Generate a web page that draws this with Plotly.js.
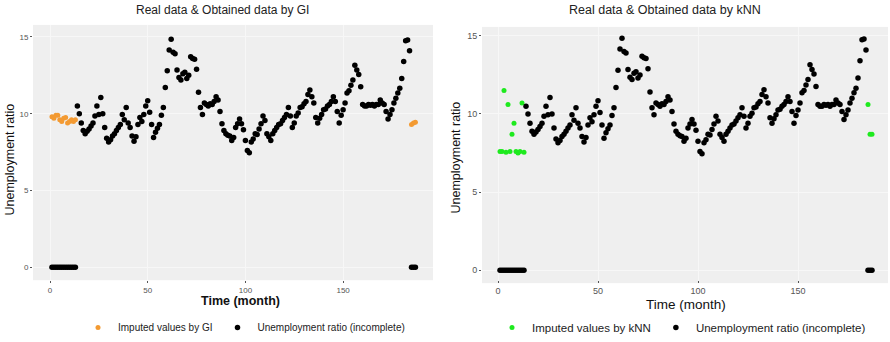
<!DOCTYPE html>
<html>
<head>
<meta charset="utf-8">
<script src="https://cdn.plot.ly/plotly-3.0.1.min.js"></script>
<style>html,body{margin:0;padding:0;background:#fff;}#chart{width:890px;height:342px;}</style>
</head>
<body>
<div id="chart"></div>
<script>
// Incomplete unemployment series, months 1..187 (missing months shown as 0)
const incomplete = [
  0, 0, 0, 0, 0, 0, 0, 0, 0, 0, 0, 0, 0,
  10.5, 10.0, 9.4, 8.9, 8.7, 8.85, 9.0, 9.2, 9.4, 9.85,
  10.5, 9.95, 11.05, 10.0, 9.1, 8.4, 8.15, 8.3, 8.55, 8.7,
  8.9, 9.1, 9.3, 9.95, 9.6, 10.4, 9.4, 9.1, 8.55, 8.2,
  8.5, 9.3, 9.75, 9.5, 9.95, 10.5, 10.85, 10.1, 9.3, 8.45,
  8.8, 9.05, 9.3, 9.9, 10.4, 11.7, 12.8, 14.15, 14.85, 14.0,
  13.9, 12.85, 12.35, 12.2, 12.6, 12.7, 12.3, 12.5, 13.7, 13.6,
  13.55, 12.9, 11.4, 10.4, 9.95, 10.7, 10.6, 10.5, 10.65, 10.6,
  10.8, 11.1, 10.9, 10.15, 9.35, 8.9, 8.7, 8.6, 8.55, 8.25,
  8.45, 9.1, 9.35, 9.65, 9.35, 8.95, 8.25, 7.6, 7.45, 8.15,
  8.35, 8.7, 8.65, 9.0, 9.35, 9.85, 9.55, 8.7, 8.5, 8.25,
  8.7, 8.9, 9.1, 9.3, 9.35, 9.55, 9.75, 9.95, 10.4, 9.85,
  9.1, 9.4, 9.85, 10.05, 10.4, 10.45, 10.65, 10.8, 11.25, 11.55,
  11.1, 10.7, 9.75, 9.4, 9.7, 9.95, 10.25, 10.3, 10.5, 10.6,
  10.8, 11.1, 10.8, 10.15, 9.4, 9.9, 10.25, 10.7, 11.35, 11.5,
  11.85, 12.2, 13.15, 12.85, 12.55, 11.75, 10.6, 10.5, 10.5, 10.6,
  10.55, 10.6, 10.5, 10.6, 10.6, 10.9, 10.7, 10.6, 10.15, 9.65,
  9.95, 10.25, 10.7, 11.0, 11.35, 11.65, 12.3, 13.4, 14.75, 14.8, 14.1,
  0, 0, 0
];
const months = incomplete.map((v, i) => i + 1);

// Months with missing data and their imputed values
const missingMonths = [1, 2, 3, 4, 5, 6, 7, 8, 9, 10, 11, 12, 13, 185, 186, 187];
const imputedGI  = [9.8, 9.7, 9.9, 9.9, 9.6, 9.5, 9.7, 9.75, 9.4, 9.5, 9.6, 9.5, 9.6, 9.3, 9.4, 9.45];
const imputedKNN = [7.6, 7.6, 11.5, 7.55, 10.6, 7.6, 8.7, 9.4, 7.6, 7.5, 7.6, 10.7, 7.55, 10.6, 8.7, 8.7];

const titles = ['Real data & Obtained data by GI', 'Real data & Obtained data by kNN'];
const legendNames = ['Imputed values by GI', 'Imputed values by kNN'];
const seriesName = 'Unemployment ratio (incomplete)';
const xTicks = [0, 50, 100, 150];
const yTicks = [0, 5, 10, 15];

const FONT = 'Liberation Sans, Arial, sans-serif';

const traces = [
  {x: missingMonths, y: imputedGI, type: 'scatter', mode: 'markers', name: legendNames[0],
   marker: {color: '#F39A32', size: 5}, xaxis: 'x', yaxis: 'y', legend: 'legend'},
  {x: months, y: incomplete, type: 'scatter', mode: 'markers', name: seriesName,
   marker: {color: '#000000', size: 5.5}, xaxis: 'x', yaxis: 'y', legend: 'legend'},
  {x: missingMonths, y: imputedKNN, type: 'scatter', mode: 'markers', name: legendNames[1],
   marker: {color: '#1EEA1E', size: 5}, xaxis: 'x2', yaxis: 'y2', legend: 'legend2'},
  {x: months, y: incomplete, type: 'scatter', mode: 'markers', name: seriesName,
   marker: {color: '#000000', size: 5.5}, xaxis: 'x2', yaxis: 'y2', legend: 'legend2'}
];

function xax(domain, range, fs) {
  return {domain: domain, range: range, tickvals: xTicks, ticktext: xTicks.map(String),
    showgrid: true, gridcolor: '#F7F7F7', gridwidth: 1, zeroline: false,
    ticks: 'outside', ticklen: 2, tickcolor: '#555', showline: false,
    tickfont: {family: FONT, size: fs, color: '#555'}, fixedrange: true};
}
function yax(domain, range, fs, anchor) {
  return {domain: domain, range: range, tickvals: yTicks, ticktext: yTicks.map(String),
    showgrid: true, gridcolor: '#F7F7F7', gridwidth: 1, zeroline: false,
    ticks: 'outside', ticklen: 2, tickcolor: '#555', showline: false, anchor: anchor,
    tickfont: {family: FONT, size: fs, color: '#555'}, fixedrange: true};
}

const layout = {
  width: 890, height: 342,
  margin: {l: 0, r: 0, t: 0, b: 0},
  paper_bgcolor: '#ffffff',
  plot_bgcolor: '#EFEFEF',
  font: {family: FONT, color: '#222'},
  xaxis: xax([33/890, 433/890], [-8.7, 196], 8),
  yaxis: yax([61/342, 317/342], [-0.84, 15.78], 8, 'x'),
  xaxis2: xax([482/890, 888/890], [-8, 195], 9),
  yaxis2: yax([58/342, 315/342], [-0.83, 15.57], 9, 'x2'),
  showlegend: true,
  legend: {orientation: 'h', x: 78/890, y: 14/342, xanchor: 'left', yanchor: 'middle',
    font: {family: FONT, size: 10, color: '#222'}, bgcolor: 'rgba(0,0,0,0)', itemwidth: 30},
  legend2: {orientation: 'h', x: 492/890, y: 14/342, xanchor: 'left', yanchor: 'middle',
    font: {family: FONT, size: 11.5, color: '#222'}, bgcolor: 'rgba(0,0,0,0)', itemwidth: 30},
  annotations: [
    {text: titles[0], x: 222/890, y: 1 - 10/342, xref: 'paper', yref: 'paper', showarrow: false,
     xanchor: 'center', yanchor: 'middle', font: {family: FONT, size: 12, color: '#222'}},
    {text: titles[1], x: 665/890, y: 1 - 10/342, xref: 'paper', yref: 'paper', showarrow: false,
     xanchor: 'center', yanchor: 'middle', font: {family: FONT, size: 12.5, color: '#222'}},
    {text: '<b>Time (month)</b>', x: 240/890, y: 1 - 302/342, xref: 'paper', yref: 'paper', showarrow: false,
     xanchor: 'center', yanchor: 'middle', font: {family: FONT, size: 12.5, color: '#111'}},
    {text: 'Time (month)', x: 686/890, y: 1 - 305/342, xref: 'paper', yref: 'paper', showarrow: false,
     xanchor: 'center', yanchor: 'middle', font: {family: FONT, size: 13.5, color: '#111'}},
    {text: 'Unemployment ratio', x: 10/890, y: 1 - 160/342, xref: 'paper', yref: 'paper', showarrow: false,
     textangle: -90, xanchor: 'center', yanchor: 'middle', font: {family: FONT, size: 12.5, color: '#111'}},
    {text: 'Unemployment ratio', x: 456/890, y: 1 - 158/342, xref: 'paper', yref: 'paper', showarrow: false,
     textangle: -90, xanchor: 'center', yanchor: 'middle', font: {family: FONT, size: 12.5, color: '#111'}}
  ]
};

Plotly.newPlot('chart', traces, layout, {displayModeBar: false, staticPlot: true});
</script>
</body>
</html>
